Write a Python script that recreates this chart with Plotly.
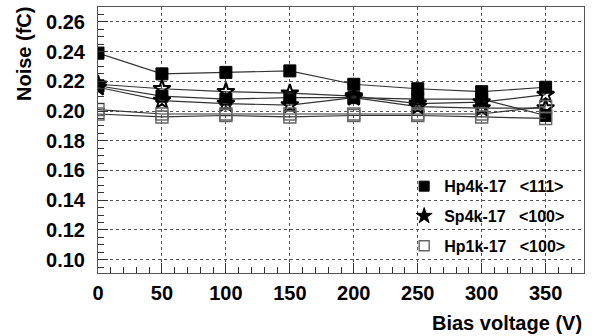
import plotly.graph_objects as go

bias = [0, 50, 100, 150, 200, 250, 300, 350]

hp4k_a = [0.239, 0.225, 0.226, 0.227, 0.218, 0.215, 0.213, 0.216]
hp4k_b = [0.217, 0.210, 0.208, 0.209, 0.209, 0.208, 0.208, 0.197]
sp4k_a = [0.218, 0.215, 0.213, 0.212, 0.210, 0.205, 0.206, 0.211]
sp4k_b = [0.216, 0.207, 0.205, 0.204, 0.209, 0.203, 0.202, 0.202]
hp1k_a = [0.201, 0.198, 0.198, 0.198, 0.198, 0.198, 0.198, 0.203]
hp1k_b = [0.198, 0.196, 0.197, 0.196, 0.197, 0.197, 0.196, 0.195]

labels = ["Hp4k-17   <111>", "Sp4k-17   <100>", "Hp1k-17   <100>"]

FONT = "Liberation Sans, Arial, Helvetica, sans-serif"
LINE = dict(color="#333333", width=1.2)

fig = go.Figure()

styles = [
    dict(symbol="square", size=12, color="black", line=dict(color="black", width=1)),
    dict(symbol="star-open", size=13, color="black", line=dict(color="black", width=2)),
    dict(symbol="square-open", size=12, color="#666666", line=dict(color="#666666", width=1.4)),
]
legend_styles = [
    dict(symbol="square", size=10, color="black", line=dict(color="black", width=1)),
    dict(symbol="star", size=12, color="black", line=dict(color="black", width=1)),
    dict(symbol="square-open", size=10, color="#666666", line=dict(color="#666666", width=1.4)),
]
series = [(hp4k_a, hp4k_b), (sp4k_a, sp4k_b), (hp1k_a, hp1k_b)]

for i, ((a, b), st) in enumerate(zip(series, styles)):
    for vals in (a, b):
        fig.add_trace(go.Scatter(
            x=bias, y=vals, mode="lines+markers",
            line=LINE, marker=st,
            legendgroup=f"g{i}", showlegend=False,
        ))

for i, (lab, st) in enumerate(zip(labels, legend_styles)):
    fig.add_trace(go.Scatter(
        x=[None], y=[None], mode="markers", marker=st, name=lab,
        legendgroup=f"g{i}", showlegend=True,
    ))

axis_common = dict(
    showline=True, linecolor="#555555", linewidth=1, mirror=True,
    showgrid=True, gridcolor="#555555", griddash="dot", gridwidth=1,
    ticks="inside", tickcolor="#333333", ticklen=10, tickwidth=1,
    zeroline=False,
    tickfont=dict(family=FONT, size=20, color="black", weight="bold"),
)

fig.update_xaxes(
    range=[0, 380], tickvals=[0, 50, 100, 150, 200, 250, 300, 350],
    minor=dict(dtick=10, tick0=0, ticks="inside", ticklen=6, tickcolor="#333333", showgrid=False),
    ticklabelstandoff=2,
    **axis_common,
)
fig.update_yaxes(
    range=[0.091, 0.270], tickvals=[0.10, 0.12, 0.14, 0.16, 0.18, 0.20, 0.22, 0.24, 0.26],
    tickformat=".2f",
    minor=dict(dtick=0.005, tick0=0.10, ticks="inside", ticklen=6, tickcolor="#333333", showgrid=False),
    ticklabelstandoff=8,
    **axis_common,
)

fig.add_annotation(
    text="Noise (fC)", textangle=-90, xref="paper", yref="paper",
    x=-0.152, y=1.008, xanchor="center", yanchor="top", showarrow=False,
    font=dict(family=FONT, size=20, color="black", weight="bold"),
)
fig.add_annotation(
    text="Bias voltage (V)", xref="paper", yref="paper",
    x=1.0, y=-0.188, xanchor="right", yanchor="middle", showarrow=False,
    font=dict(family=FONT, size=20, color="black", weight="bold"),
)

fig.update_layout(
    width=599, height=336,
    margin=dict(l=98, r=15, t=7, b=63),
    paper_bgcolor="white", plot_bgcolor="white",
    showlegend=True,
    legend=dict(
        x=0.63, y=0.39, xanchor="left", yanchor="top",
        bgcolor="rgba(0,0,0,0)", borderwidth=0,
        traceorder="grouped", tracegroupgap=6,
        itemwidth=30,
        font=dict(family=FONT, size=16, color="black", weight="bold"),
    ),
)

fig.write_html("out.html")
